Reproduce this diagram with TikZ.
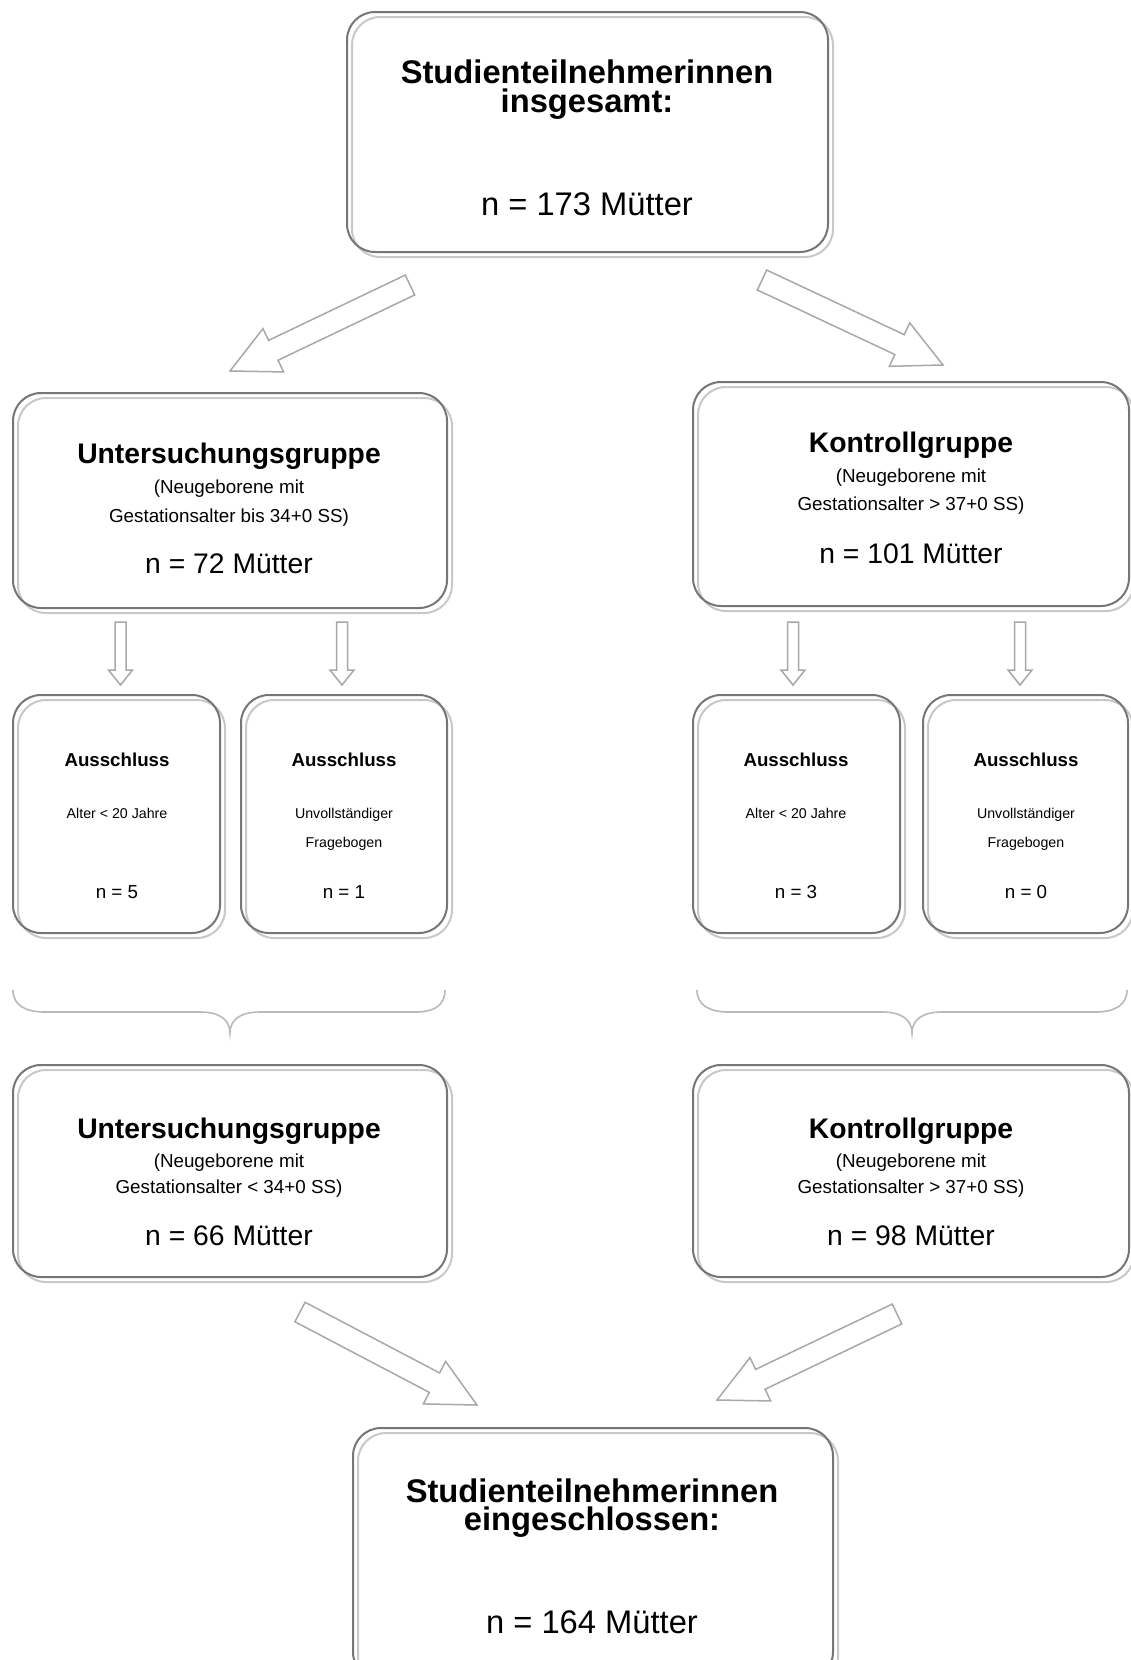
\documentclass[tikz,border=0pt]{standalone}
\usepackage{fontspec}
\setmainfont{Liberation Sans}
\usetikzlibrary{calc}
\definecolor{boxc}{RGB}{118,118,118}
\definecolor{shadc}{RGB}{200,200,200}
\definecolor{arrc}{RGB}{168,168,168}
\definecolor{bracec}{RGB}{185,185,185}
\newcommand\blockarrow[5]{%
  \path let \p1=(#1), \p2=(#2) in \pgfextra{%
    \pgfmathsetmacro\tmpang{atan2(\y2-\y1,\x2-\x1)}\global\let\baang\tmpang
    \pgfmathsetmacro\tmplen{veclen(\x2-\x1,\y2-\y1)}\global\let\balen\tmplen
    \xdef\bax{\x1}\xdef\bay{\y1}};
  \begin{scope}[shift={(\bax,\bay)}, rotate=\baang]
    \draw[blockarr] (0,-#3) -- ({\balen-#5},-#3) -- ({\balen-#5},-#4) -- (\balen,0)
      -- ({\balen-#5},#4) -- ({\balen-#5},#3) -- (0,#3) -- cycle;
  \end{scope}}
\tikzset{
  mybox/.style={draw=boxc, line width=2pt, rounded corners=28pt, inner sep=0pt,
    preaction={draw=shadc, line width=2pt, transform canvas={shift={(5pt,-5pt)}}}},
  blockarr/.style={draw=arrc, line width=1.5pt, fill=white, line join=miter},
  bracestyle/.style={draw=bracec, line width=1.6pt},
  txt/.style={anchor=base, inner sep=0pt, text=black},
  bigb/.style={txt, font=\fontsize{32.7}{34}\selectfont\bfseries},
  bign/.style={txt, font=\fontsize{32.7}{34}\selectfont},
  midb/.style={txt, font=\fontsize{28.3}{30}\selectfont\bfseries},
  midn/.style={txt, font=\fontsize{28.3}{30}\selectfont},
  midsub/.style={txt, font=\fontsize{18.8}{20}\selectfont},
  smb/.style={txt, font=\fontsize{18.7}{20}\selectfont\bfseries},
  smsub/.style={txt, font=\fontsize{14.2}{16}\selectfont},
  smn/.style={txt, font=\fontsize{18.8}{20}\selectfont},
}
\begin{document}
\begin{tikzpicture}[x=1pt, y=-1pt]
\useasboundingbox (0,0) rectangle (1130,1660);
\fill[white] (0,0) rectangle (1130,1660);

% boxes
\node[mybox, minimum width=481pt, minimum height=240pt] (top) at (587.5,132) {};
\node[mybox, minimum width=434pt, minimum height=215pt] (ug) at (230,500.5) {};
\node[mybox, minimum width=436pt, minimum height=224pt] (kg) at (911,494) {};
\node[mybox, minimum width=207pt, minimum height=238pt] (a1) at (116.5,814) {};
\node[mybox, minimum width=206pt, minimum height=238pt] (a2) at (344,814) {};
\node[mybox, minimum width=207pt, minimum height=238pt] (a3) at (796.5,814) {};
\node[mybox, minimum width=205pt, minimum height=238pt] (a4) at (1025.5,814) {};
\node[mybox, minimum width=434pt, minimum height=212pt] (ug2) at (230,1171) {};
\node[mybox, minimum width=436pt, minimum height=212pt] (kg2) at (911,1171) {};
\node[mybox, minimum width=480pt, minimum height=252pt] (fin) at (593,1554) {};

% texts
\node[bigb] (top1) at (587,83) {Studienteilnehmerinnen};
\node[bigb] (top2) at (587,112) {insgesamt:};
\node[bign] (top3) at (587,215) {n = 173 Mütter};

\node[midb] (ug1) at (229,463) {Untersuchungsgruppe};
\node[midsub] (ug2a) at (229,493) {(Neugeborene mit};
\node[midsub] (ug3) at (229,522) {Gestationsalter bis 34+0 SS)};
\node[midn] (ug4) at (229,573) {n = 72 Mütter};

\node[midb] (kg1) at (911,452) {Kontrollgruppe};
\node[midsub] (kg2a) at (911,482) {(Neugeborene mit};
\node[midsub] (kg3) at (911,510) {Gestationsalter > 37+0 SS)};
\node[midn] (kg4) at (911,563) {n = 101 Mütter};

\node[smb] (a1t) at (117,766) {Ausschluss};
\node[smsub] (a1s) at (117,818) {Alter < 20 Jahre};
\node[smn] (a1n) at (117,898) {n = 5};

\node[smb] (a2t) at (344,766) {Ausschluss};
\node[smsub] (a2s) at (344,818) {Unvollständiger};
\node[smsub] (a2u) at (344,847) {Fragebogen};
\node[smn] (a2n) at (344,898) {n = 1};

\node[smb] (a3t) at (796,766) {Ausschluss};
\node[smsub] (a3s) at (796,818) {Alter < 20 Jahre};
\node[smn] (a3n) at (796,898) {n = 3};

\node[smb] (a4t) at (1026,766) {Ausschluss};
\node[smsub] (a4s) at (1026,818) {Unvollständiger};
\node[smsub] (a4u) at (1026,847) {Fragebogen};
\node[smn] (a4n) at (1026,898) {n = 0};

\node[midb] (ub1) at (229,1138) {Untersuchungsgruppe};
\node[midsub] (ub2) at (229,1167) {(Neugeborene mit};
\node[midsub] (ub3) at (229,1193) {Gestationsalter < 34+0 SS)};
\node[midn] (ub4) at (229,1245) {n = 66 Mütter};

\node[midb] (kb1) at (911,1138) {Kontrollgruppe};
\node[midsub] (kb2) at (911,1167) {(Neugeborene mit};
\node[midsub] (kb3) at (911,1193) {Gestationsalter > 37+0 SS)};
\node[midn] (kb4) at (911,1245) {n = 98 Mütter};

\node[bigb] (fin1) at (592,1502) {Studienteilnehmerinnen};
\node[bigb] (fin2) at (592,1530) {eingeschlossen:};
\node[bign] (fin3) at (592,1633) {n = 164 Mütter};

% arrow end points
\coordinate (t1s) at (410,285);  \coordinate (t1e) at (230,371);
\coordinate (t2s) at (762,280);  \coordinate (t2e) at (943,365);
\coordinate (v1s) at (120.5,622); \coordinate (v1e) at (120.5,685);
\coordinate (v2s) at (342,622);  \coordinate (v2e) at (342,685);
\coordinate (v3s) at (793,622);  \coordinate (v3e) at (793,685);
\coordinate (v4s) at (1020,622); \coordinate (v4e) at (1020,685);
\coordinate (b1s) at (300,1312); \coordinate (b1e) at (477,1405);
\coordinate (b2s) at (897,1314); \coordinate (b2e) at (717,1400);

\blockarrow{t1s}{t1e}{11}{24}{48}
\blockarrow{t2s}{t2e}{11}{24}{48}
\blockarrow{v1s}{v1e}{5.5}{12}{15}
\blockarrow{v2s}{v2e}{5.5}{12}{15}
\blockarrow{v3s}{v3e}{5.5}{12}{15}
\blockarrow{v4s}{v4e}{5.5}{12}{15}
\blockarrow{b1s}{b1e}{11}{24}{48}
\blockarrow{b2s}{b2e}{11}{24}{48}

% braces
\draw[bracestyle] (13,990) .. controls (13,1005) and (25,1012) .. (45,1012) -- (200,1012)
  .. controls (220,1012) and (230,1020) .. (230,1033)
  .. controls (230,1020) and (240,1012) .. (260,1012) -- (415,1012)
  .. controls (435,1012) and (445,1005) .. (445,990);
\draw[bracestyle] (697,990) .. controls (697,1005) and (709,1012) .. (729,1012) -- (882,1012)
  .. controls (902,1012) and (912,1020) .. (912,1033)
  .. controls (912,1020) and (922,1012) .. (942,1012) -- (1095,1012)
  .. controls (1115,1012) and (1127,1005) .. (1127,990);
\end{tikzpicture}
\end{document}
